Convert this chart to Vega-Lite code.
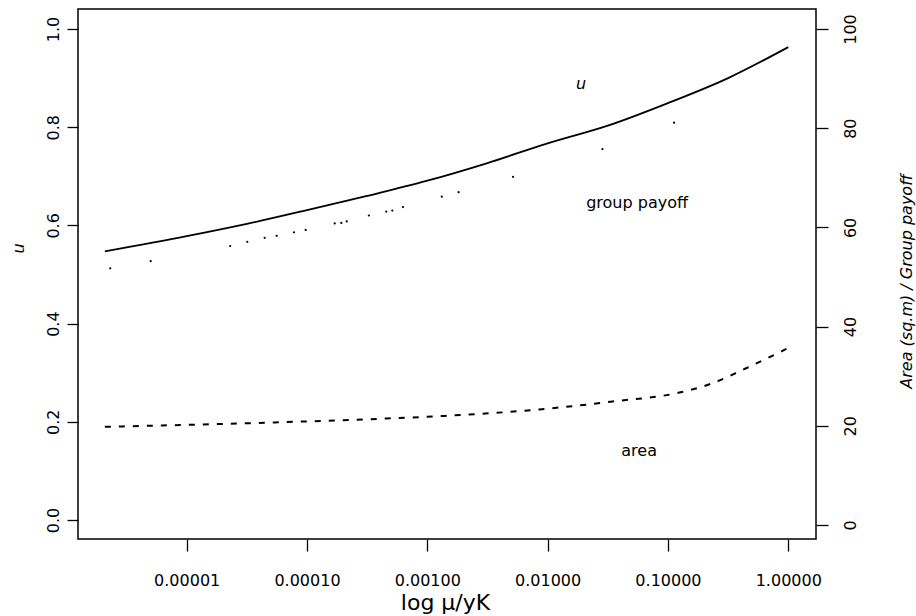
{
  "$schema": "https://vega.github.io/schema/vega-lite/v6.json",
  "width": 738,
  "height": 530,
  "autosize": {"type": "none"},
  "padding": {"left": 78, "top": 9, "right": 100, "bottom": 77},
  "background": "white",
  "config": {
    "view": {"stroke": "black", "strokeWidth": 1.5},
    "font": "DejaVu Sans",
    "axis": {
      "domain": false,
      "grid": false,
      "tickColor": "black",
      "tickWidth": 1.3,
      "labelColor": "black",
      "titleColor": "black",
      "labelFont": "DejaVu Sans",
      "titleFont": "DejaVu Sans",
      "labelFontSize": 16,
      "titleFontWeight": "normal",
      "labelOverlap": false
    }
  },
  "datasets": {
    "ucurve": [
      {"mu": 2.09e-6, "u": 0.547},
      {"mu": 1e-5, "u": 0.578},
      {"mu": 3.162e-5, "u": 0.603},
      {"mu": 1e-4, "u": 0.631},
      {"mu": 3.162e-4, "u": 0.66},
      {"mu": 1e-3, "u": 0.691},
      {"mu": 3.162e-3, "u": 0.727},
      {"mu": 0.01, "u": 0.767},
      {"mu": 0.03162, "u": 0.803},
      {"mu": 0.1, "u": 0.849},
      {"mu": 0.3162, "u": 0.9},
      {"mu": 1, "u": 0.963}
    ],
    "payoff": [
      {"mu": 2.317e-6, "v": 51.75},
      {"mu": 5.02e-6, "v": 53.2},
      {"mu": 2.3e-5, "v": 56.25},
      {"mu": 3.19e-5, "v": 57.1},
      {"mu": 4.45e-5, "v": 57.9},
      {"mu": 5.6e-5, "v": 58.3},
      {"mu": 7.8e-5, "v": 59.0},
      {"mu": 9.75e-5, "v": 59.5},
      {"mu": 1.7e-4, "v": 60.8},
      {"mu": 1.93e-4, "v": 60.9},
      {"mu": 2.14e-4, "v": 61.2},
      {"mu": 3.27e-4, "v": 62.4},
      {"mu": 4.56e-4, "v": 63.2},
      {"mu": 5.12e-4, "v": 63.4},
      {"mu": 6.28e-4, "v": 64.1},
      {"mu": 1.32e-3, "v": 66.2},
      {"mu": 1.82e-3, "v": 67.1},
      {"mu": 5.16e-3, "v": 70.2},
      {"mu": 0.02858, "v": 75.8},
      {"mu": 0.1125, "v": 81.1}
    ],
    "area": [
      {"mu": 2.09e-6, "v": 19.8},
      {"mu": 3.03e-5, "v": 20.5},
      {"mu": 5.74e-5, "v": 20.7},
      {"mu": 3.89e-4, "v": 21.4},
      {"mu": 1.4e-3, "v": 22.0},
      {"mu": 8.53e-3, "v": 23.3},
      {"mu": 0.0348, "v": 24.9},
      {"mu": 0.1245, "v": 26.7},
      {"mu": 0.2355, "v": 28.6},
      {"mu": 0.4457, "v": 31.6},
      {"mu": 0.927, "v": 35.3},
      {"mu": 1, "v": 35.7}
    ],
    "labels": [
      {"mu": 0.01897, "u": 0.888, "label": "u"},
      {"mu": 0.05538, "u": 0.6456, "label": "group payoff"},
      {"mu": 0.0576, "u": 0.1405, "label": "area"}
    ]
  },
  "encoding": {
    "x": {
      "field": "mu",
      "type": "quantitative",
      "scale": {"type": "log", "domain": [1.25e-6, 1.7], "nice": false},
      "axis": {
        "values": [0.00001, 0.0001, 0.001, 0.01, 0.1, 1],
        "format": ".5f",
        "tickSize": 12,
        "labelPadding": 21,
        "labelAngle": 0,
        "labelAlign": "center",
        "labelBaseline": "top",
        "title": "log μ/yK",
        "titleFontSize": 22,
        "titleX": 367,
        "titleY": 70,
        "titleAlign": "center",
        "titleBaseline": "alphabetic"
      }
    }
  },
  "layer": [
    {
      "layer": [
        {
          "data": {"name": "ucurve"},
          "mark": {"type": "line", "color": "black", "strokeWidth": 1.8, "interpolate": "monotone"},
          "encoding": {
            "y": {
              "field": "u",
              "type": "quantitative",
              "scale": {"domain": [-0.0387, 1.0407], "nice": false, "zero": false},
              "axis": {
                "orient": "left",
                "values": [0, 0.2, 0.4, 0.6, 0.8, 1.0],
                "format": ".1f",
                "tickSize": 11,
                "labelPadding": 14,
                "labelAngle": 270,
                "labelAlign": "center",
                "labelBaseline": "middle",
                "title": "u",
                "titleFontStyle": "italic",
                "titleFontSize": 16,
                "titleAngle": 270,
                "titleX": -60,
                "titleY": 239,
                "titleAlign": "center",
                "titleBaseline": "middle"
              }
            }
          }
        },
        {
          "data": {"name": "labels"},
          "transform": [{"filter": "datum.label === 'u'"}],
          "mark": {"type": "text", "fontSize": 16, "fontStyle": "italic", "color": "black", "align": "center", "baseline": "middle"},
          "encoding": {
            "y": {"field": "u", "type": "quantitative"},
            "text": {"field": "label"}
          }
        },
        {
          "data": {"name": "labels"},
          "transform": [{"filter": "datum.label !== 'u'"}],
          "mark": {"type": "text", "fontSize": 16, "color": "black", "align": "center", "baseline": "middle"},
          "encoding": {
            "y": {"field": "u", "type": "quantitative"},
            "text": {"field": "label"}
          }
        }
      ]
    },
    {
      "layer": [
        {
          "data": {"name": "payoff"},
          "mark": {"type": "point", "filled": true, "size": 5, "color": "black", "opacity": 1},
          "encoding": {
            "y": {
              "field": "v",
              "type": "quantitative",
              "scale": {"domain": [-2.82, 104.03], "nice": false, "zero": false},
              "axis": {
                "orient": "right",
                "values": [0, 20, 40, 60, 80, 100],
                "format": "d",
                "tickSize": 12,
                "labelPadding": 22,
                "labelAngle": 270,
                "labelAlign": "center",
                "labelBaseline": "middle",
                "title": "Area (sq.m)   / Group payoff",
                "titleFontStyle": "italic",
                "titleFontSize": 16,
                "titleAngle": 270,
                "titleX": 90,
                "titleY": 272,
                "titleAlign": "center",
                "titleBaseline": "middle"
              }
            }
          }
        },
        {
          "data": {"name": "area"},
          "mark": {"type": "line", "color": "black", "strokeWidth": 2, "strokeDash": [6, 8], "interpolate": "monotone"},
          "encoding": {
            "y": {"field": "v", "type": "quantitative"}
          }
        }
      ]
    }
  ],
  "resolve": {"scale": {"y": "independent"}}
}
